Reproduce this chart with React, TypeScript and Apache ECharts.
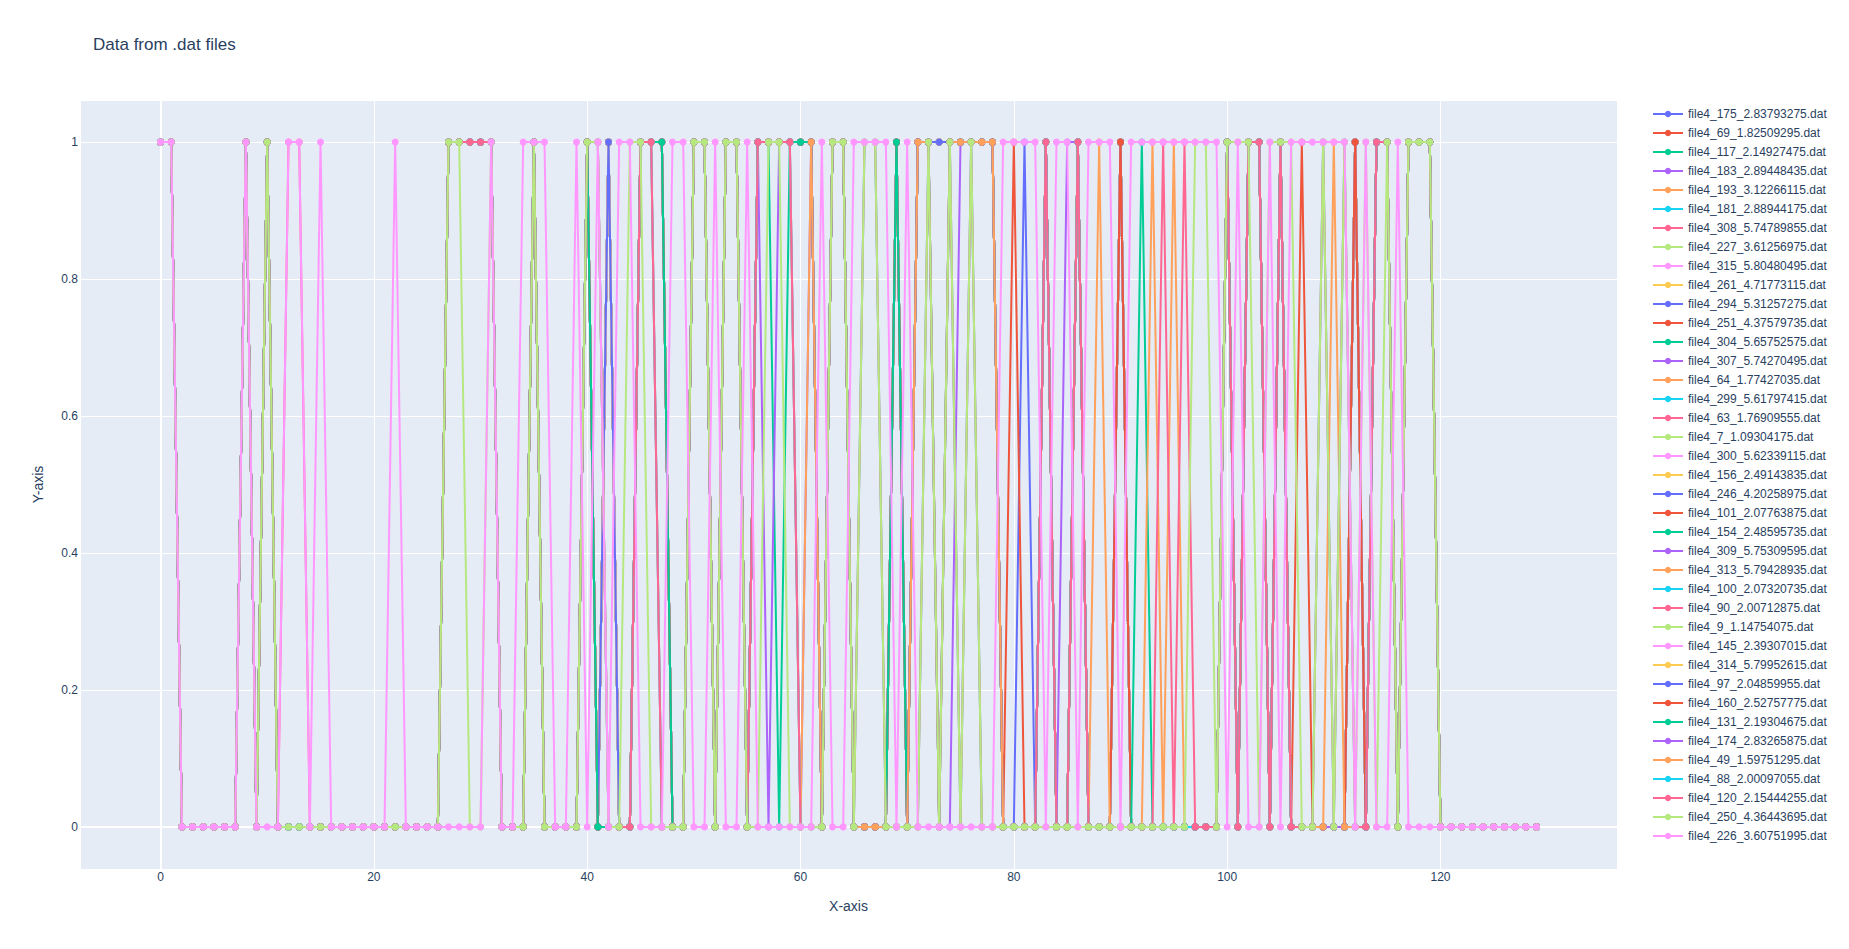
import React, { useEffect, useRef } from "react";
import * as echarts from "echarts";

// Legend / trace names, in drawing order (first drawn at the bottom)
const fileNames: string[] = [
  "file4_175_2.83793275.dat",
  "file4_69_1.82509295.dat",
  "file4_117_2.14927475.dat",
  "file4_183_2.89448435.dat",
  "file4_193_3.12266115.dat",
  "file4_181_2.88944175.dat",
  "file4_308_5.74789855.dat",
  "file4_227_3.61256975.dat",
  "file4_315_5.80480495.dat",
  "file4_261_4.71773115.dat",
  "file4_294_5.31257275.dat",
  "file4_251_4.37579735.dat",
  "file4_304_5.65752575.dat",
  "file4_307_5.74270495.dat",
  "file4_64_1.77427035.dat",
  "file4_299_5.61797415.dat",
  "file4_63_1.76909555.dat",
  "file4_7_1.09304175.dat",
  "file4_300_5.62339115.dat",
  "file4_156_2.49143835.dat",
  "file4_246_4.20258975.dat",
  "file4_101_2.07763875.dat",
  "file4_154_2.48595735.dat",
  "file4_309_5.75309595.dat",
  "file4_313_5.79428935.dat",
  "file4_100_2.07320735.dat",
  "file4_90_2.00712875.dat",
  "file4_9_1.14754075.dat",
  "file4_145_2.39307015.dat",
  "file4_314_5.79952615.dat",
  "file4_97_2.04859955.dat",
  "file4_160_2.52757775.dat",
  "file4_131_2.19304675.dat",
  "file4_174_2.83265875.dat",
  "file4_49_1.59751295.dat",
  "file4_88_2.00097055.dat",
  "file4_120_2.15444255.dat",
  "file4_250_4.36443695.dat",
  "file4_226_3.60751995.dat",
];

const colorway: string[] = [
  "#636EFA", "#EF553B", "#00CC96", "#AB63FA", "#FFA15A",
  "#19D3F3", "#FF6692", "#B6E880", "#FF97FF", "#FECB52",
];

// x runs 0..129 (one value per sample); values are 0/1, read per sample (groups of 10)
const xFirst = 0;

// Traces whose values are hidden under later traces (read as the common pattern)
const bitsHidden =
  "1100000010 1000000000 0000000111 1100010000 1010011100 1101101111 1101100001 0111111110 0001001000 1000000000 1011010000 0010110111 0000000000";
const bits97 =
  "1100000010 1000000000 0000000111 1100010000 1010011100 1101101111 1101100001 0111111110 0101001000 1000000000 1011010000 0010110111 0000000000";
const bits160 =
  "1100000010 1000000000 0000000111 1100010000 1000011100 1101101111 1101100001 0110111110 1001001000 1000000000 1011010100 0010110111 0000000000";
const bits131 =
  "1100000010 1000000000 0000000111 1100010000 1000011100 1101101101 1101100001 0110111110 0001001000 0010000000 1011010000 0000110111 0000000000";
const bits174 =
  "1100000010 1000000000 0000000111 1100010000 1100011000 1101101011 0101100000 0110011110 0001011000 0000000000 1011010000 0000110111 0000000000";
const bits49 =
  "1100000010 1000000000 0000000111 1100010000 1100011000 1101101111 0101100000 0110111110 0001001010 0001010000 1011010000 1000110111 0000000000";
const bits88 =
  "1100000010 1000000000 0000000111 1100010000 1100011000 1101101111 0001101100 0010101000 0001001000 0000000000 1011010001 0100110111 0000000000";
const bits120 =
  "1100000010 1011000000 0000000111 1100010000 1100011000 1101101111 0001101100 0010101000 0001001000 0000101000 1011010001 0100110111 0000000000";
const bits250 =
  "1100000010 1000000000 0000000110 0100010000 1100110000 1101100110 0001101100 0010101000 0000000000 0000000110 1110111001 0101010111 0000000000";
const bits226 =
  "1100000010 0011010000 0010000000 0100111001 0101100011 0010010000 0010011110 1000000001 1110110111 0111111111 0100101111 1101001000 0000000000";

// Which value string each trace uses (same order as fileNames)
const traceBits: string[] = [
  bitsHidden, bitsHidden, bitsHidden, bitsHidden, bitsHidden,
  bitsHidden, bitsHidden, bitsHidden, bitsHidden, bitsHidden,
  bitsHidden, bitsHidden, bitsHidden, bitsHidden, bitsHidden,
  bitsHidden, bitsHidden, bitsHidden, bitsHidden, bitsHidden,
  bitsHidden, bitsHidden, bitsHidden, bitsHidden, bitsHidden,
  bitsHidden, bitsHidden, bitsHidden, bitsHidden, bitsHidden,
  bits97, bits160, bits131, bits174, bits49,
  bits88, bits120, bits250, bits226,
];

const FONT = "'Liberation Sans', Arial, sans-serif";
const TEXT_COLOR = "#2a3f5f";

function parseBits(s: string): number[][] {
  const vals = s.replace(/\s+/g, "").split("").map(Number);
  return vals.map((v, i) => [xFirst + i, v]);
}

function buildOption(): echarts.EChartsOption {
  const series: any[] = [
    {
      type: "line",
      name: "__zero",
      data: [[0, 0]],
      showSymbol: false,
      lineStyle: { width: 0, opacity: 0 },
      z: 1,
      silent: true,
      markLine: {
        silent: true,
        symbol: "none",
        label: { show: false },
        lineStyle: { color: "#ffffff", width: 2, type: "solid" },
        data: [{ xAxis: 0 }, { yAxis: 0 }],
      },
    },
  ];
  fileNames.forEach((name, i) => {
    const color = colorway[i % colorway.length];
    series.push({
      type: "line",
      name,
      data: parseBits(traceBits[i]),
      symbol: "circle",
      symbolSize: 7,
      showSymbol: true,
      showAllSymbol: true,
      color,
      itemStyle: { color },
      lineStyle: { color, width: 2 },
      z: 2 + i,
      silent: true,
    });
  });

  return {
    animation: false,
    backgroundColor: "#ffffff",
    textStyle: { fontFamily: FONT },
    title: {
      text: "Data from .dat files",
      left: 93,
      top: 36,
      padding: 0,
      textStyle: { fontFamily: FONT, fontSize: 17, fontWeight: "normal", color: TEXT_COLOR },
    },
    legend: {
      data: fileNames,
      orient: "vertical",
      left: 1652,
      top: 107,
      padding: 0,
      itemWidth: 30,
      itemHeight: 8,
      itemGap: 5,
      selectedMode: false,
      textStyle: { fontFamily: FONT, fontSize: 12, lineHeight: 14, color: TEXT_COLOR },
    },
    grid: {
      left: 80,
      top: 100,
      width: 1537,
      height: 769,
      show: true,
      backgroundColor: "#E5ECF6",
      borderWidth: 0,
      containLabel: false,
    },
    xAxis: {
      type: "value",
      min: -7.55,
      max: 136.55,
      splitNumber: 7,
      minInterval: 20,
      maxInterval: 20,
      name: "X-axis",
      nameLocation: "middle",
      nameGap: 30,
      nameTextStyle: { fontFamily: FONT, fontSize: 14, color: TEXT_COLOR },
      axisLine: { show: false },
      axisTick: { show: false },
      axisLabel: {
        showMinLabel: false,
        showMaxLabel: false,
        fontSize: 12,
        color: TEXT_COLOR,
        margin: 2,
        fontFamily: FONT,
      },
      splitLine: { show: true, lineStyle: { color: "#ffffff", width: 1 } },
    },
    yAxis: {
      type: "value",
      min: -0.0615,
      max: 1.0615,
      splitNumber: 5,
      minInterval: 0.2,
      maxInterval: 0.2,
      name: "Y-axis",
      nameLocation: "middle",
      nameGap: 35,
      nameRotate: 90,
      nameTextStyle: { fontFamily: FONT, fontSize: 14, color: TEXT_COLOR },
      axisLine: { show: false },
      axisTick: { show: false },
      axisLabel: {
        showMinLabel: false,
        showMaxLabel: false,
        fontSize: 12,
        color: TEXT_COLOR,
        margin: 2,
        fontFamily: FONT,
      },
      splitLine: { show: true, lineStyle: { color: "#ffffff", width: 1 } },
    },
    series,
  } as any;
}

export default function App() {
  const ref = useRef<HTMLDivElement>(null);
  useEffect(() => {
    if (!ref.current) return;
    const chart = echarts.init(ref.current, null, { renderer: "svg" });
    chart.setOption(buildOption());
    return () => {
      chart.dispose();
    };
  }, []);
  return (
    <div
      ref={ref}
      style={{ position: "fixed", left: 0, top: 0, width: 1849, height: 949, background: "#ffffff" }}
    />
  );
}
